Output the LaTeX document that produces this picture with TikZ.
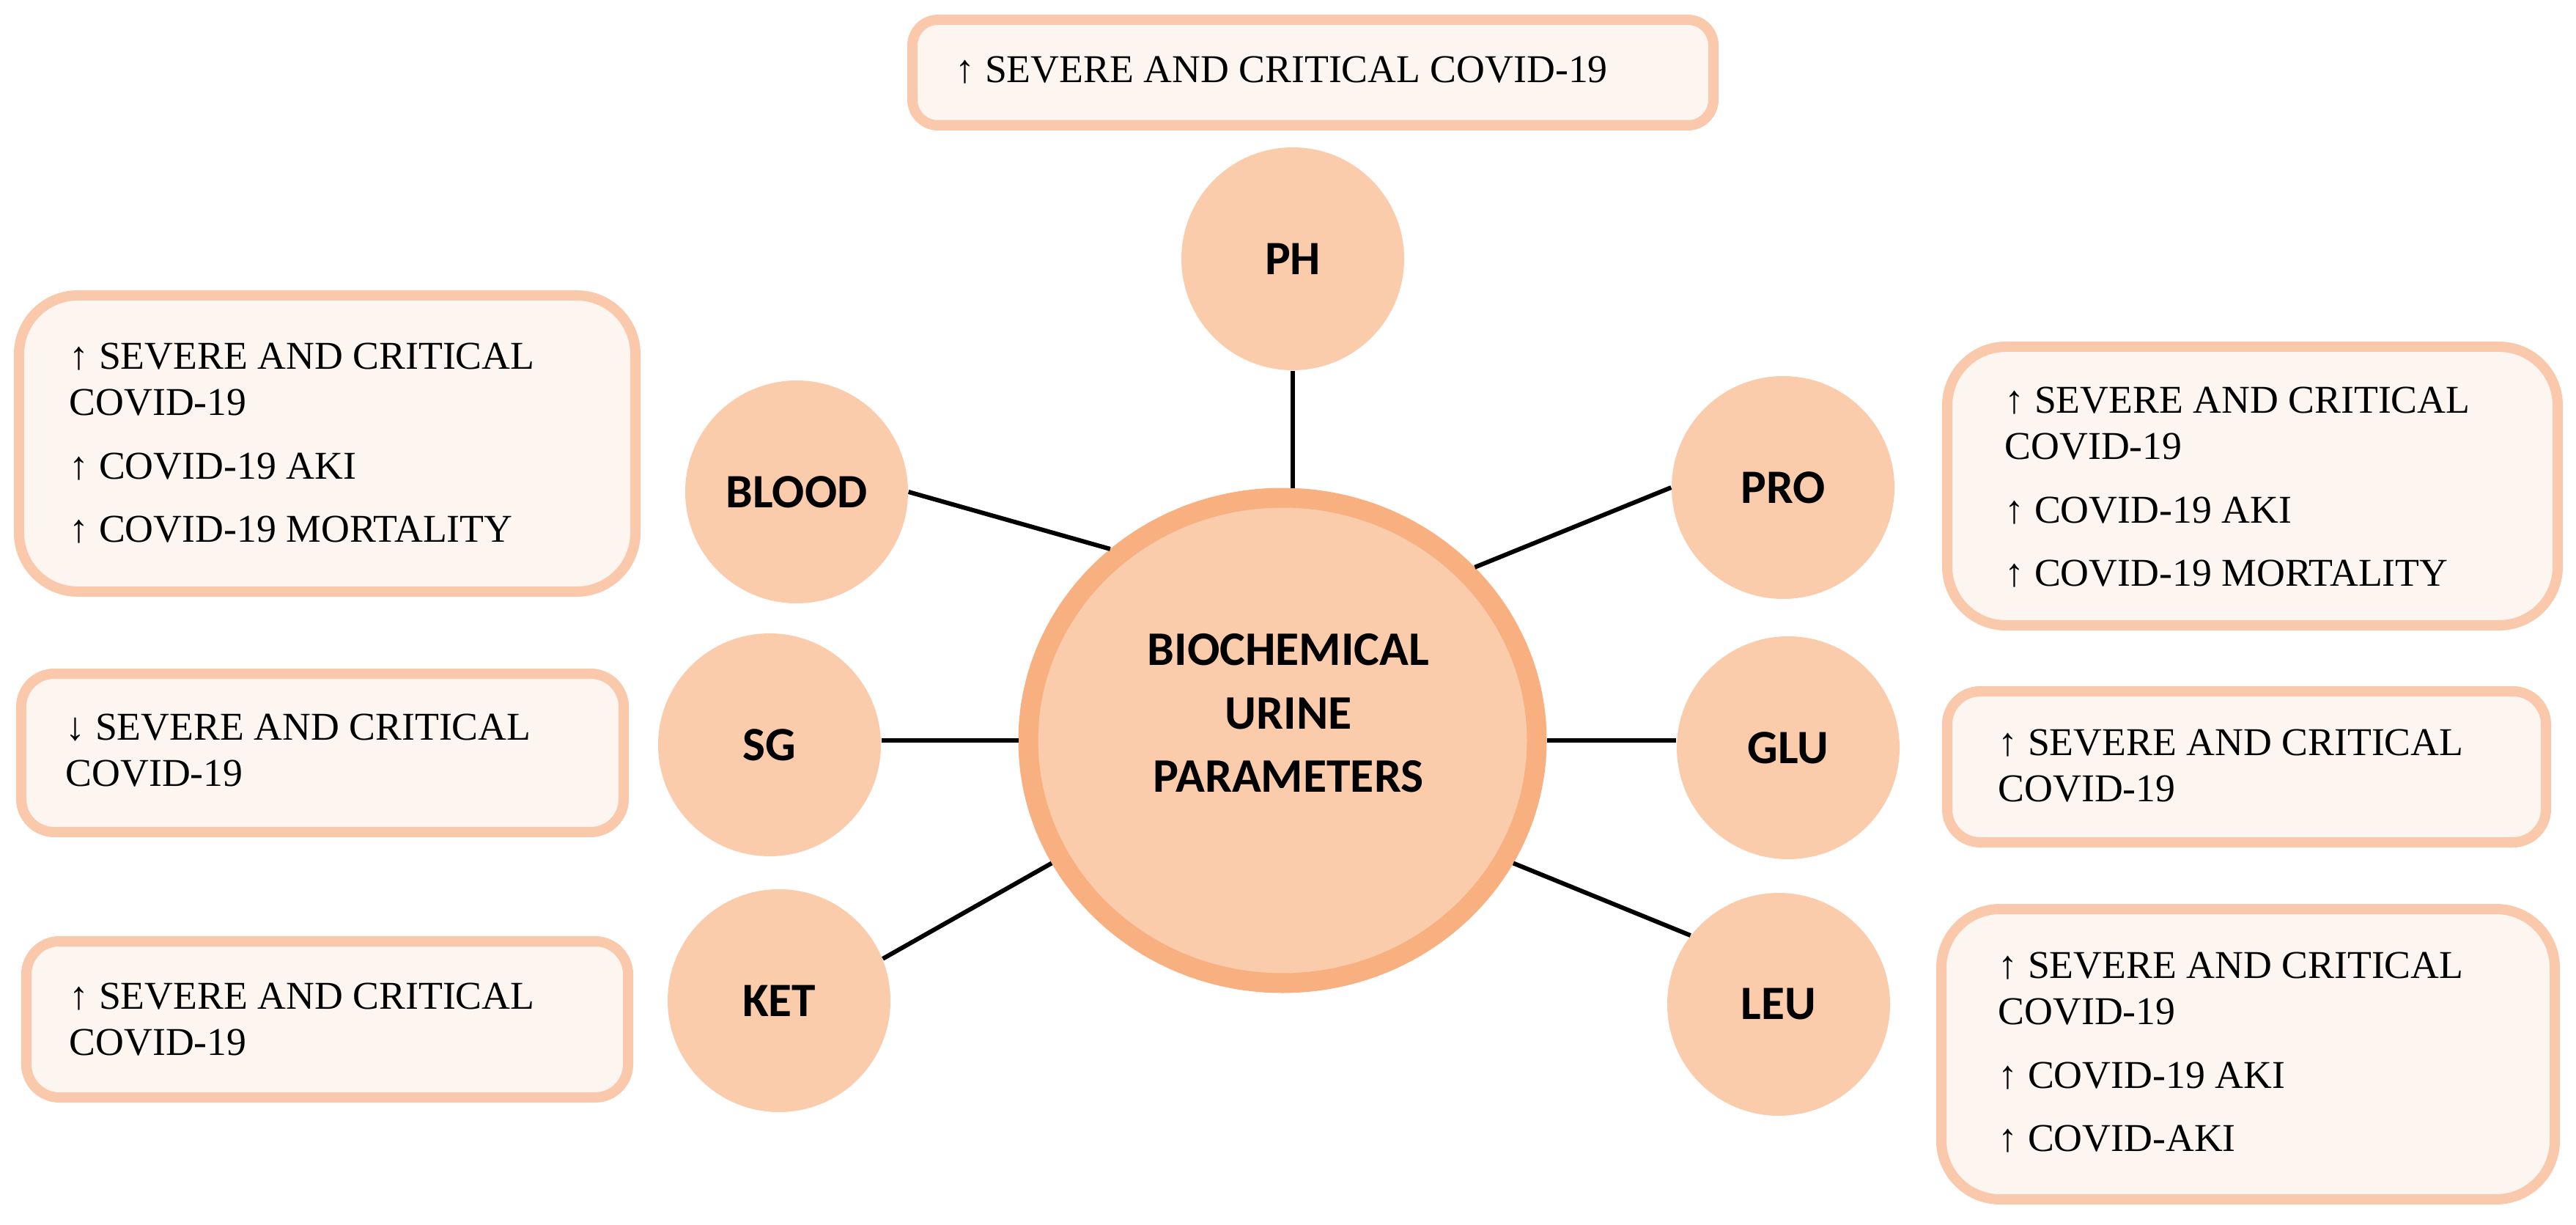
\documentclass[tikz,border=0pt]{standalone}
\usepackage{fontspec}
\setmainfont{Liberation Serif}
\newfontfamily\carlito{Carlito}
\usetikzlibrary{shapes.geometric}
\definecolor{peach}{RGB}{251,204,172}
\definecolor{peachdark}{RGB}{248,176,128}
\definecolor{boxfill}{RGB}{253,245,240}
\definecolor{boxline}{RGB}{250,201,171}
\tikzset{
  sat/.style={circle, fill=peach, minimum size=3.04cm, inner sep=0pt,
    font=\carlito\bfseries\fontsize{18.6}{22}\selectfont},
  hub/.style={ellipse, fill=peach, draw=peachdark, line width=0.27cm,
    minimum width=6.94cm, minimum height=6.62cm, inner sep=0pt},
  infobox/.style={draw=boxline, fill=boxfill, line width=0.14cm,
    rounded corners=#1, inner sep=0pt},
  infobox/.default=0.4cm,
  infotext/.style={anchor=north west, inner sep=0pt, align=left,
    font=\fontsize{15.3}{18.1}\selectfont},
  link/.style={line width=0.06cm, black}
}
\begin{document}
\begin{tikzpicture}
\useasboundingbox (0,0) rectangle (35.15,16.70);
\fill[white] (0,0) rectangle (35.15,16.70);

% information boxes
\node[infobox=0.35cm, minimum width=10.93cm, minimum height=1.44cm] (topbox) at (17.915,15.71) {};
\node[infobox=0.8cm, minimum width=8.41cm, minimum height=4.04cm] (bloodbox) at (4.465,10.65) {};
\node[infobox=0.45cm, minimum width=8.22cm, minimum height=2.16cm] (sgbox) at (4.40,6.43) {};
\node[infobox=0.45cm, minimum width=8.21cm, minimum height=2.13cm] (ketbox) at (4.465,2.795) {};
\node[infobox=0.8cm, minimum width=8.33cm, minimum height=3.80cm] (probox) at (30.735,10.07) {};
\node[infobox=0.45cm, minimum width=8.17cm, minimum height=2.06cm] (glubox) at (30.655,6.24) {};
\node[infobox=0.8cm, minimum width=8.37cm, minimum height=3.96cm] (leubox) at (30.675,2.32) {};

% box texts
\node[infotext] (toptext) at (13.03,15.94) {↑ SEVERE AND CRITICAL COVID-19};
\node[infotext] (bloodtext) at (0.94,12.03) {↑ SEVERE AND CRITICAL\\COVID-19\\[6.5pt]↑ COVID-19 AKI\\[6.5pt]↑ COVID-19 MORTALITY};
\node[infotext] (sgtext) at (0.89,6.97) {↓ SEVERE AND CRITICAL\\COVID-19};
\node[infotext] (kettext) at (0.94,3.30) {↑ SEVERE AND CRITICAL\\COVID-19};
\node[infotext] (protext) at (27.35,11.43) {↑ SEVERE AND CRITICAL\\COVID-19\\[6.5pt]↑ COVID-19 AKI\\[6.5pt]↑ COVID-19 MORTALITY};
\node[infotext] (glutext) at (27.26,6.76) {↑ SEVERE AND CRITICAL\\COVID-19};
\node[infotext] (leutext) at (27.26,3.72) {↑ SEVERE AND CRITICAL\\COVID-19\\[6.5pt]↑ COVID-19 AKI\\[6.5pt]↑ COVID-AKI};

% central hub
\node[hub] (center) at (17.50,6.60) {};
\node[align=center, inner sep=0pt, font=\carlito\bfseries\fontsize{18.7}{24.6}\selectfont] (centerlabel) at (17.58,6.97) {BIOCHEMICAL\\URINE\\PARAMETERS};

% satellites
\node[sat] (ph) at (17.64,13.17) {PH};
\node[sat] (blood) at (10.87,9.99) {BLOOD};
\node[sat] (sg) at (10.50,6.54) {SG};
\node[sat] (ket) at (10.63,3.05) {KET};
\node[sat] (pro) at (24.33,10.05) {PRO};
\node[sat] (glu) at (24.40,6.50) {GLU};
\node[sat] (leu) at (24.27,3.00) {LEU};

% connectors
\draw[link] (ph.south) -- (ph.south |- center.north);
\draw[link] (blood.east) -- (center.132.7);
\draw[link] (sg.east |- center.west) -- (center.west);
\draw[link] (ket.22) -- (center.208);
\draw[link] (center.42) -- (pro.west);
\draw[link] (center.east) -- (glu.west |- center.east);
\draw[link] (center.-28) -- (leu.142);
\end{tikzpicture}
\end{document}
